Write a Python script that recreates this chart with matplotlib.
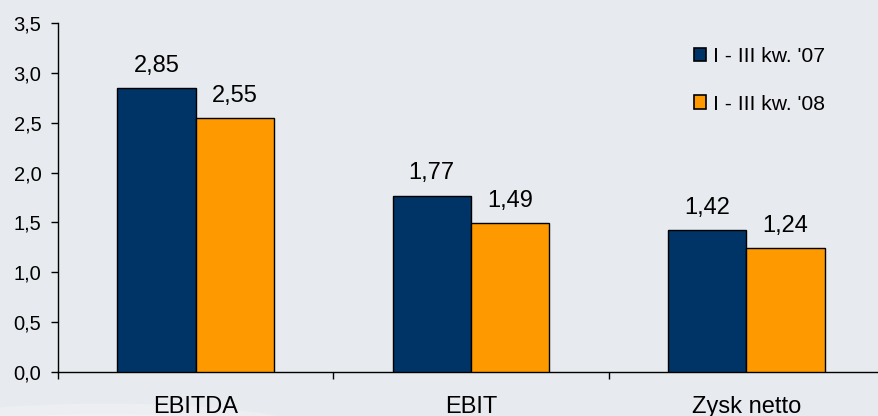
import matplotlib
matplotlib.use("Agg")
import matplotlib.pyplot as plt
from matplotlib.patches import Ellipse, Patch
import numpy as np

categories = ["EBITDA", "EBIT", "Zysk netto"]
series_names = ["I - III kw. '07", "I - III kw. '08"]
values_07 = [2.85, 1.77, 1.42]
values_08 = [2.55, 1.49, 1.24]
value_labels_07 = ["2,85", "1,77", "1,42"]
value_labels_08 = ["2,55", "1,49", "1,24"]
yticks = [0.0, 0.5, 1.0, 1.5, 2.0, 2.5, 3.0, 3.5]
ytick_labels = ["0,0", "0,5", "1,0", "1,5", "2,0", "2,5", "3,0", "3,5"]

plt.rcParams['font.family'] = ['Liberation Sans', 'DejaVu Sans']

bg = '#e7eaee'
navy = '#003366'
orange = '#ff9900'

fig = plt.figure(figsize=(8.79, 4.16), dpi=100, facecolor=bg)

# subtle white swoosh at bottom-left
for i, a in enumerate([0.22, 0.22, 0.25]):
    e = Ellipse((0.12, -0.03 - i * 0.01), 0.45 - i * 0.1, 0.12 - i * 0.03,
                transform=fig.transFigure, facecolor='white', alpha=a,
                edgecolor='none', zorder=-5)
    fig.patches.append(e)

W = 879.0
H = 416.0
left = 58 / W
right_px = 884
bottom = (H - 372) / H
top = (H - 23) / H
ax = fig.add_axes([left, bottom, (right_px - 58) / W, top - bottom])
ax.set_facecolor('none')

x = np.arange(len(categories)) + 0.5
bw = 0.285
ax.bar(x - bw / 2, values_07, bw, color=navy, edgecolor='black', linewidth=1.0, zorder=3)
ax.bar(x + bw / 2, values_08, bw, color=orange, edgecolor='black', linewidth=1.0, zorder=3)

for xi, v, lab in zip(x - bw / 2, values_07, value_labels_07):
    ax.annotate(lab, (xi, v), xytext=(0, 8), textcoords='offset points',
                ha='center', va='bottom', fontsize=17, color='black')
for xi, v, lab in zip(x + bw / 2, values_08, value_labels_08):
    ax.annotate(lab, (xi, v), xytext=(0, 8), textcoords='offset points',
                ha='center', va='bottom', fontsize=17, color='black')

ax.set_xlim(0, 3)
ax.set_ylim(0, 3.5)
ax.set_yticks(yticks)
ax.set_yticklabels(ytick_labels, fontsize=14.5)
ax.tick_params(axis='y', length=5, width=1, pad=7, direction='out')

ax.set_xticks([0, 1, 2, 3])
ax.set_xticklabels([])
ax.set_xticks(x, minor=True)
ax.set_xticklabels(categories, minor=True, fontsize=17)
ax.tick_params(axis='x', which='major', length=5, width=1, direction='out')
ax.tick_params(axis='x', which='minor', length=0, pad=17)

for s in ['top', 'right']:
    ax.spines[s].set_visible(False)
for s in ['left', 'bottom']:
    ax.spines[s].set_linewidth(1)
    ax.spines[s].set_color('black')

handles = [Patch(facecolor=navy, edgecolor='black', linewidth=1.2),
           Patch(facecolor=orange, edgecolor='black', linewidth=1.2)]
leg = fig.legend(handles, series_names, loc='upper left',
                 bbox_to_anchor=(694 / W, (H - 47) / H),
                 frameon=False, fontsize=15.2, handlelength=0.58, handleheight=0.58,
                 handletextpad=0.3, labelspacing=1.35, borderpad=0, borderaxespad=0)

fig.savefig('out.png', dpi=100, facecolor=bg)
